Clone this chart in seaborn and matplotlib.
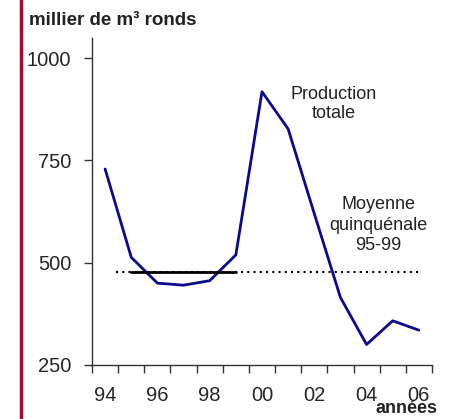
import matplotlib
matplotlib.use("Agg")
import matplotlib.pyplot as plt
import seaborn as sns
import pandas as pd
from matplotlib.lines import Line2D

# Production totale (milliers de m3 ronds), 1994-2006
years = ["94", "95", "96", "97", "98", "99", "00", "01", "02", "03", "04", "05", "06"]
production = [729, 513, 450, 445, 456, 519, 918, 827, 620, 415, 300, 358, 335]
mean_years = ["95", "96", "97", "98", "99"]
shown_labels = ["94", "96", "98", "00", "02", "04", "06"]

sns.set_style("ticks")
plt.rcParams["font.family"] = ["Liberation Sans", "DejaVu Sans"]

df = pd.DataFrame({"pos": range(len(years)), "year": years, "production": production})
mean_val = df[df["year"].isin(mean_years)]["production"].mean()

fig = plt.figure(figsize=(4.49, 4.19), dpi=100)
ax = fig.add_axes([0.205, 0.129, 0.757, 0.78])

sns.lineplot(data=df, x="pos", y="production", color="#0a0a8c", lw=2.0, ax=ax)

# moyenne quinquennale: pointillé sur toute la période, trait plein sur 95-99
ax.plot([0.4, len(years) - 1], [mean_val, mean_val], color="black", lw=1.5, ls=(0, (1, 2)))
first = years.index(mean_years[0])
last = years.index(mean_years[-1])
ax.plot([first, last], [mean_val, mean_val], color="black", lw=2.0)

ax.set_xlim(-0.5, len(years) - 0.5)
ax.set_ylim(250, 1049)
ax.set_yticks([250, 500, 750, 1000])
ax.set_xticks([i - 0.5 for i in range(len(years) + 1)])
ax.set_xticklabels([])
ax.set_xticks([years.index(y) for y in shown_labels], minor=True)
ax.set_xticklabels(shown_labels, minor=True)
ax.tick_params(axis="x", which="major", length=6, width=1, color="#333333", direction="out")
ax.tick_params(axis="x", which="minor", length=0, labelsize=14.5, pad=15.5)
ax.tick_params(axis="y", length=6, width=1, color="#333333", labelsize=14.5, pad=9)
ax.set_xlabel("")
ax.set_ylabel("")
sns.despine(ax=ax)
for s in ["left", "bottom"]:
    ax.spines[s].set_color("#333333")
    ax.spines[s].set_linewidth(1)

ax.text(8.75, 888, "Production\ntotale", ha="center", va="center", fontsize=13,
        color="#222222", linespacing=1.2)
ax.text(10.45, 592, "Moyenne\nquinquénale\n95-99", ha="center", va="center", fontsize=13,
        color="#222222", linespacing=1.25)

fig.text(0.065, 0.952, "millier de m³ ronds", fontsize=13.5, fontweight="bold",
         color="#222222", va="center", ha="left")
fig.text(0.975, 0.004, "années", fontsize=13, fontweight="bold", color="#222222",
         ha="right", va="bottom")

fig.add_artist(Line2D([0.046, 0.046], [0, 1], transform=fig.transFigure,
                      color="#9e0b2f", lw=2.5))

fig.savefig("out.png", dpi=100)
